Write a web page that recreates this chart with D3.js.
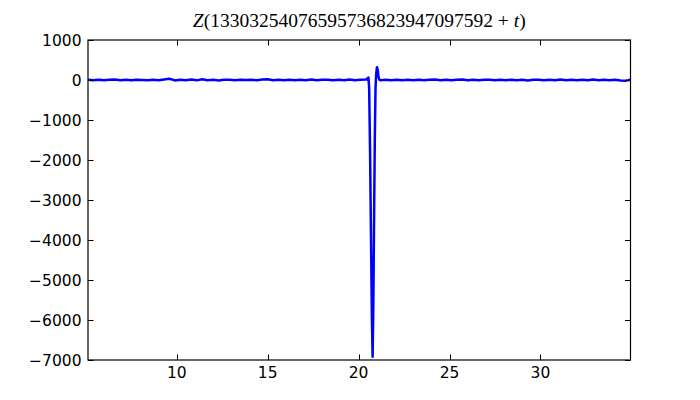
<!DOCTYPE html>
<html>
<head>
<meta charset="utf-8">
<script src="https://cdn.jsdelivr.net/npm/d3@7"></script>
<style>
  body { margin: 0; background: #fff; }
  svg { display: block; }
</style>
</head>
<body>
<div id="chart"></div>
<script>
// values: [t, Z]
const flatBefore = [
  [5.12, 6], [5.4, -5], [5.7, 9], [6.0, -8], [6.3, 4], [6.6, 10], [6.9, -6], [7.2, 5],
  [7.5, -9], [7.8, 8], [8.1, 3], [8.4, -7], [8.7, 8], [9.0, -4], [9.3, 12], [9.6, 30],
  [9.9, -10], [10.2, 7], [10.5, -6], [10.8, 10], [11.1, -9], [11.4, 18], [11.7, -5], [12.0, 6],
  [12.3, -10], [12.6, 8], [12.9, 4], [13.2, -7], [13.5, 9], [13.8, -3], [14.1, 7], [14.4, -8],
  [14.7, 10], [15.0, 18], [15.3, -6], [15.6, 5], [15.9, -9], [16.2, 8], [16.5, -4], [16.8, 7],
  [17.1, -5], [17.4, 10], [17.7, -8], [18.0, 5], [18.3, 9], [18.6, -6], [18.9, 8], [19.2, -5],
  [19.5, 11], [19.8, -7], [20.1, 6], [20.35, 10]
];
const spike = [
  [20.45, 15], [20.5, 50], [20.54, 60], [20.58, -200], [20.63, -1800], [20.68, -3900],
  [20.73, -5900], [20.77, -6920], [20.81, -5600], [20.85, -3500], [20.89, -1500],
  [20.93, -200], [20.97, 180], [21.01, 320], [21.05, 260], [21.09, 90], [21.14, 10]
];
const flatAfter = [
  [21.2, -6], [21.5, 8], [21.8, -5], [22.1, 9], [22.4, -8], [22.7, 5], [23.0, -4], [23.3, 8],
  [23.6, -7], [23.9, 5], [24.2, 10], [24.5, -5], [24.8, 7], [25.1, -9], [25.4, 6], [25.7, 10],
  [26.0, -5], [26.3, 8], [26.6, -8], [26.9, 5], [27.2, 9], [27.5, -6], [27.8, 4], [28.1, -8],
  [28.4, 8], [28.7, -5], [29.0, 7], [29.3, -10], [29.6, 6], [29.9, 9], [30.2, -5], [30.5, 8],
  [30.8, -7], [31.1, 15], [31.4, -4], [31.7, 6], [32.0, -8], [32.3, 7], [32.6, -5], [32.9, 10],
  [33.2, -6], [33.5, 5], [33.8, -8], [34.1, 5], [34.4, -10], [34.7, -16], [34.95, 4]
];
const xTicks = [10, 15, 20, 25, 30];
const yTicks = [1000, 0, -1000, -2000, -3000, -4000, -5000, -6000, -7000];
const titleDigits = "13303254076595736823947097592";

const width = 700, height = 400;
const margin = { top: 40, right: 69.5, bottom: 40, left: 88 };
const w = width - margin.left - margin.right;
const h = height - margin.top - margin.bottom;

const svg = d3.select("#chart").append("svg")
  .attr("width", width)
  .attr("height", height);

const g = svg.append("g")
  .attr("transform", "translate(" + margin.left + "," + margin.top + ")");

const x = d3.scaleLinear().domain([5.12, 34.95]).range([0, w]);
const y = d3.scaleLinear().domain([-7000, 1000]).range([h, 0]);

const data = flatBefore.concat(spike, flatAfter);

g.append("clipPath").attr("id", "clip")
  .append("rect").attr("width", w).attr("height", h);

g.append("path")
  .datum(data)
  .attr("clip-path", "url(#clip)")
  .attr("fill", "none")
  .attr("stroke", "#0000ff")
  .attr("stroke-width", 2.5)
  .attr("stroke-linejoin", "round")
  .attr("d", d3.line().x(d => x(d[0])).y(d => y(d[1])));

const tickLen = 5.5;
const fmt = v => (v < 0 ? "\u2212" + Math.abs(v) : String(v));
const labelFont = "'DejaVu Sans', sans-serif";

// x ticks (inside, top and bottom)
const xt = g.append("g");
xTicks.forEach(t => {
  const px = Math.round(x(t)) + 0.5;
  xt.append("line").attr("x1", px).attr("x2", px).attr("y1", h).attr("y2", h - tickLen)
    .attr("stroke", "#000");
  xt.append("line").attr("x1", px).attr("x2", px).attr("y1", 0).attr("y2", tickLen)
    .attr("stroke", "#000");
  xt.append("text").attr("x", x(t)).attr("y", h + 17.5)
    .attr("text-anchor", "middle")
    .attr("font-family", labelFont).attr("font-size", 15.5)
    .text(fmt(t));
});

// y ticks
const yt = g.append("g");
yTicks.forEach(v => {
  const py = Math.round(y(v)) + 0.5;
  yt.append("line").attr("x1", 0).attr("x2", tickLen).attr("y1", py).attr("y2", py)
    .attr("stroke", "#000");
  yt.append("line").attr("x1", w).attr("x2", w - tickLen).attr("y1", py).attr("y2", py)
    .attr("stroke", "#000");
  yt.append("text").attr("x", -6.5).attr("y", y(v))
    .attr("dy", "0.36em")
    .attr("text-anchor", "end")
    .attr("font-family", labelFont).attr("font-size", 15.5)
    .text(fmt(v));
});

// frame
g.append("rect")
  .attr("x", 0).attr("y", 0).attr("width", w).attr("height", h)
  .attr("fill", "none").attr("stroke", "#000").attr("stroke-width", 1.2);

// title
const title = svg.append("text")
  .attr("x", margin.left + w / 2).attr("y", 26.5)
  .attr("text-anchor", "middle")
  .attr("font-family", "'Liberation Serif', 'DejaVu Serif', serif")
  .attr("font-size", 19.5);
title.append("tspan").attr("font-style", "italic").text("Z");
title.append("tspan").text("(" + titleDigits + "\u2005+\u2005");
title.append("tspan").attr("font-style", "italic").text("t");
title.append("tspan").text(")");
</script>
</body>
</html>
